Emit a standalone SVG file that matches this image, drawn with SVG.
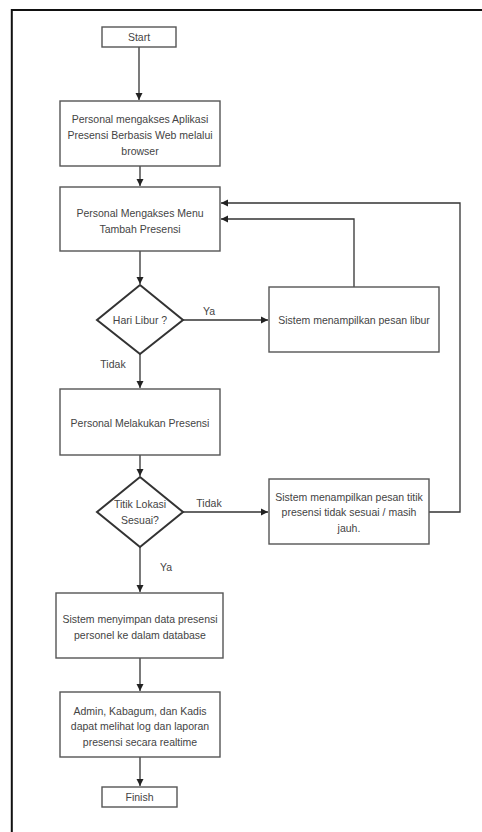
<svg xmlns="http://www.w3.org/2000/svg" width="482" height="832" viewBox="0 0 482 832">
<style>
.box{fill:#fff;stroke:#555;stroke-width:1.4}
.dia{fill:#fff;stroke:#333;stroke-width:2}
.t{font-family:"Liberation Sans",Arial,sans-serif;font-size:10.5px;fill:#444;text-anchor:middle}
.c{fill:none;stroke:#333;stroke-width:1.3}
</style>
<defs>
<marker id="ah" markerWidth="8" markerHeight="8" refX="7" refY="4" orient="auto" markerUnits="userSpaceOnUse">
<path d="M0,0.5 L7,4 L0,7.5 Z" fill="#222"/>
</marker>
</defs>
<rect x="0" y="0" width="482" height="832" fill="#fff"/>
<path d="M11.8,832 V10 H482" fill="none" stroke="#111" stroke-width="2"/>
<g id="connectors">
<path class="c" d="M139,47 V100" marker-end="url(#ah)"/>
<path class="c" d="M140,166 V186" marker-end="url(#ah)"/>
<path class="c" d="M140,251 V284" marker-end="url(#ah)"/>
<path class="c" d="M183,320 H268" marker-end="url(#ah)"/>
<path class="c" d="M354,287 V219 H221" marker-end="url(#ah)"/>
<path class="c" d="M140,354 V388" marker-end="url(#ah)"/>
<path class="c" d="M140,455 V476" marker-end="url(#ah)"/>
<path class="c" d="M183,512 H268" marker-end="url(#ah)"/>
<path class="c" d="M429,512 H460 V203 H221" marker-end="url(#ah)"/>
<path class="c" d="M140,547 V592" marker-end="url(#ah)"/>
<path class="c" d="M140,658 V691" marker-end="url(#ah)"/>
<path class="c" d="M140,757 V786" marker-end="url(#ah)"/>
<text class="t" x="209" y="315">Ya</text>
<text class="t" x="113" y="368">Tidak</text>
<text class="t" x="209" y="507">Tidak</text>
<text class="t" x="166" y="571">Ya</text>
</g>
<g id="start">
<rect class="box" x="102" y="27" width="74" height="20"/>
<text class="t" x="139" y="41">Start</text>
</g>
<g id="akses-aplikasi">
<rect class="box" x="60" y="101" width="160" height="65"/>
<text class="t" x="140" y="123">Personal mengakses Aplikasi</text>
<text class="t" x="140" y="139">Presensi Berbasis Web melalui</text>
<text class="t" x="140" y="155">browser</text>
</g>
<g id="akses-menu">
<rect class="box" x="60" y="187" width="160" height="64"/>
<text class="t" x="140" y="217">Personal Mengakses Menu</text>
<text class="t" x="140" y="233">Tambah Presensi</text>
</g>
<g id="hari-libur">
<polygon class="dia" points="140,285 183,320 140,354 97,320"/>
<text class="t" x="140" y="324">Hari Libur ?</text>
</g>
<g id="pesan-libur">
<rect class="box" x="269" y="287" width="170" height="65"/>
<text class="t" x="354" y="324">Sistem menampilkan pesan libur</text>
</g>
<g id="melakukan-presensi">
<rect class="box" x="60" y="389" width="160" height="66"/>
<text class="t" x="140" y="427">Personal Melakukan Presensi</text>
</g>
<g id="titik-lokasi">
<polygon class="dia" points="140,477 183,512 140,547 97,512"/>
<text class="t" x="140" y="508">Titik Lokasi</text>
<text class="t" x="140" y="524">Sesuai?</text>
</g>
<g id="pesan-titik">
<rect class="box" x="269" y="479" width="160" height="65"/>
<text class="t" x="349" y="501">Sistem menampilkan pesan titik</text>
<text class="t" x="349" y="516">presensi tidak sesuai / masih</text>
<text class="t" x="349" y="532">jauh.</text>
</g>
<g id="simpan-data">
<rect class="box" x="56" y="593" width="167" height="65"/>
<text class="t" x="140" y="623">Sistem menyimpan data presensi</text>
<text class="t" x="140" y="639">personel ke dalam database</text>
</g>
<g id="lihat-log">
<rect class="box" x="60" y="692" width="160" height="65"/>
<text class="t" x="140" y="715">Admin, Kabagum, dan Kadis</text>
<text class="t" x="140" y="730">dapat melihat log dan laporan</text>
<text class="t" x="140" y="746">presensi secara realtime</text>
</g>
<g id="finish">
<rect class="box" x="102" y="787" width="75" height="20"/>
<text class="t" x="139.5" y="801">Finish</text>
</g>
</svg>
